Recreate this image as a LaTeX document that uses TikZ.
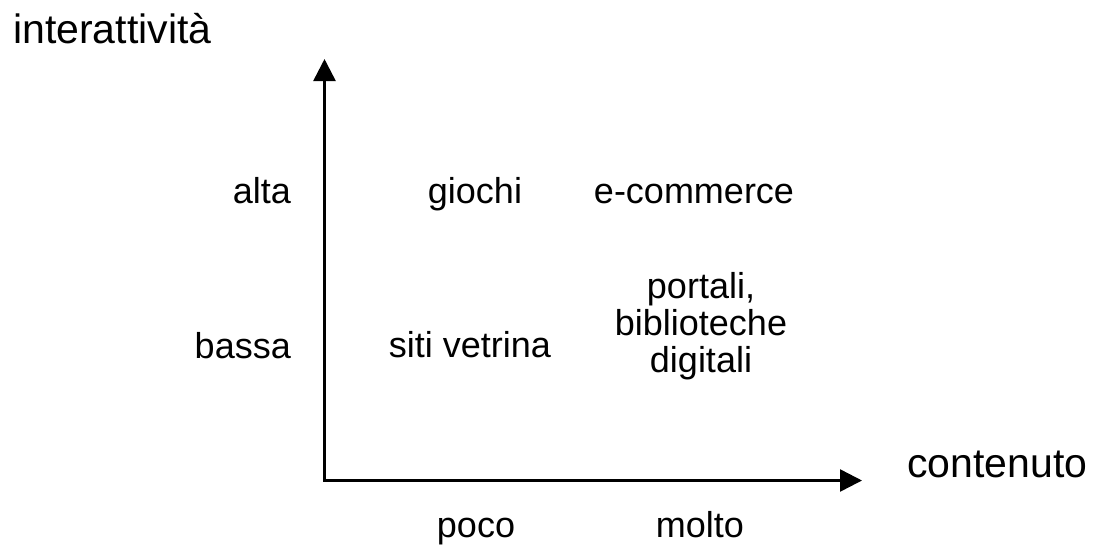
\documentclass[tikz,border=0pt]{standalone}
\usepackage{fontspec}
\setmainfont{Liberation Sans}
\usetikzlibrary{arrows.meta}
\tikzset{
  axisline/.style={line width=2.5pt, line join=miter, {Triangle[width=22pt,length=22pt]}-{Triangle[width=22pt,length=22pt]}},
  lbl/.style={inner sep=0pt, font=\fontsize{36}{39}\selectfont},
  ttl/.style={inner sep=0pt, font=\fontsize{41}{45}\selectfont},
}
\begin{document}
\begin{tikzpicture}[x=1pt,y=-1pt]
\useasboundingbox (0,0) rectangle (1097,544);
\coordinate (O) at (324.5,480.5);
\coordinate (Y) at (324.5,59);
\coordinate (X) at (862,480.5);
\draw[axisline] (Y) -- (O) -- (X);
\node[ttl, anchor=base west] (ytitle) at (13,43) {interattività};
\node[ttl, anchor=base west] (xtitle) at (907,477) {contenuto};
\node[lbl, anchor=base east] (alta) at (291,203) {alta};
\node[lbl, anchor=base east] (bassa) at (291,358) {bassa};
\node[lbl, anchor=base] (giochi) at (475,203) {giochi};
\node[lbl, anchor=base] (ecom) at (694,203) {e-commerce};
\node[lbl, anchor=base] (siti) at (470,357) {siti vetrina};
\node[lbl, anchor=base, align=center] (portali) at (701,372) {portali,\\[-2pt]biblioteche\\[-2pt]digitali};
\node[lbl, anchor=base] (poco) at (476,537) {poco};
\node[lbl, anchor=base] (molto) at (700,537) {molto};
\end{tikzpicture}
\end{document}
